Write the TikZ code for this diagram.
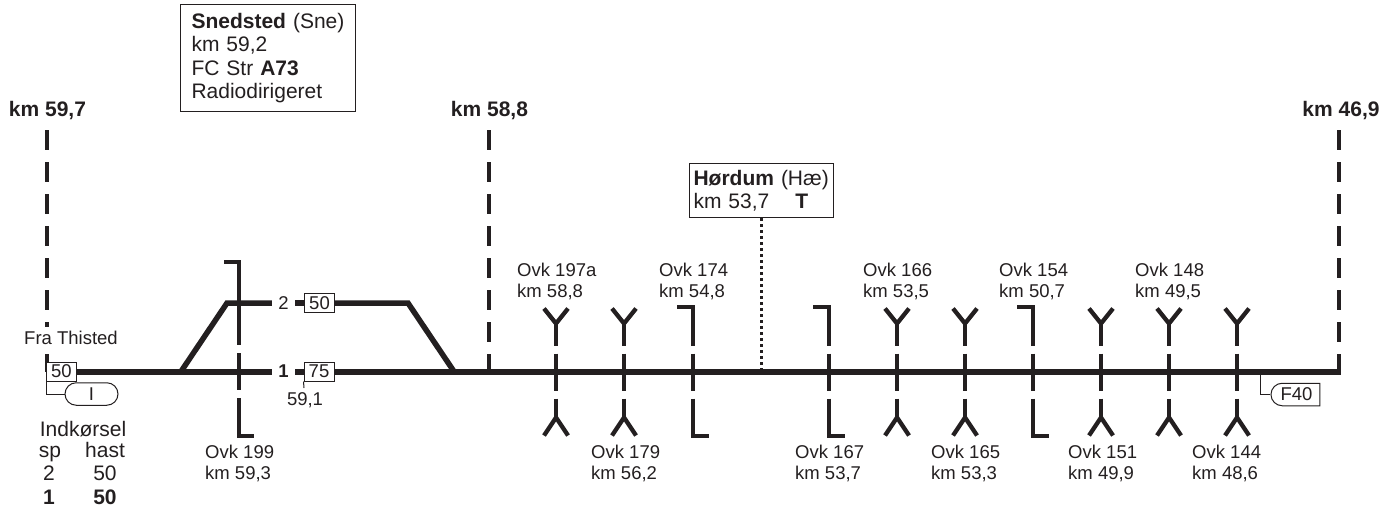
\documentclass[tikz,border=0pt]{standalone}
\usepackage{fontspec}
\setmainfont{Liberation Sans}
\usepackage{tikz}
\usetikzlibrary{positioning,shapes.misc}
\usepackage{xcolor}
\definecolor{rail}{RGB}{35,31,32}

\begin{document}
\begin{tikzpicture}[
    x=1pt, y=-1pt,
    every node/.style={text=rail, inner sep=0pt},
    txt/.style={font=\fontsize{18.5}{21}\selectfont, align=left},
    bigtxt/.style={font=\fontsize{21}{24}\selectfont, anchor=base},
    bigbold/.style={font=\fontsize{21}{24}\selectfont\bfseries, anchor=base},
    kmhead/.style={font=\fontsize{21}{24}\selectfont\bfseries},
    infobox/.style={draw=rail, line width=1pt, fill=white, font=\fontsize{21}{23.3}\selectfont, align=left, anchor=north west},
    speedbox/.style={draw=rail, line width=1pt, fill=white, font=\fontsize{18.5}{21}\selectfont, minimum width=30pt, minimum height=19pt},
    tracknum/.style={font=\fontsize{18.5}{21}\selectfont, minimum width=23pt, minimum height=14pt},
    signbox/.style={draw=rail, line width=1pt, fill=white, font=\fontsize{18.5}{21}\selectfont, rounded rectangle, minimum height=22.5pt},
    track/.style={draw=rail, line width=6pt, line join=miter},
    branch/.style={draw=rail, line width=5.5pt, line join=miter},
    kmline/.style={draw=rail, line width=4.5pt, dash pattern=on 20pt off 12pt},
    thinline/.style={draw=rail, line width=1pt},
    bar/.style={draw=rail, line width=4.3pt},
    ovkfork/.pic={
        \draw[bar] (-12,-63) -- (0,-48) -- (12,-63);
        \draw[bar] (0,-48) -- (0,-26);
        \draw[bar] (0,-18) -- (0,19);
        \draw[bar] (0,27) -- (0,46);
        \draw[bar] (-12,64) -- (0,46) -- (12,64);
    },
    ovkgate/.pic={
        \draw[bar] (-16,-64.5) -- (0,-64.5) -- (0,-26);
        \draw[bar] (0,-18) -- (0,19);
        \draw[bar] (0,27) -- (0,64.5) -- (16,64.5);
    }
]
    \useasboundingbox (0,0) rectangle (1391,509);

    % km marks
    \coordinate (m597a) at (47,130);
    \coordinate (m597b) at (47,371.5);
    \coordinate (m588a) at (489,130);
    \coordinate (m588b) at (489,371.5);
    \coordinate (m469a) at (1339,130);
    \coordinate (m469b) at (1339,371.5);
    \draw[kmline] (m597a) -- (m597b);
    \draw[kmline] (m588a) -- (m588b);
    \draw[kmline] (m469a) -- (m469b);
    \node[kmhead] (h597) at (47.5,111) {km 59,7};
    \node[kmhead] (h588) at (489.5,111) {km 58,8};
    \node[kmhead] (h469) at (1341,111) {km 46,9};

    % tracks
    \node[speedbox, fill=white] (v0) at (61.5,371.5) {50};
    \node[tracknum, font=\fontsize{18.5}{21}\selectfont\bfseries] (n1) at (283.5,371.5) {1};
    \node[tracknum] (n2) at (283.5,303) {2};
    \node[speedbox] (v1) at (319,371.5) {75};
    \node[speedbox] (v2) at (319.5,303) {50};
    \coordinate (s1) at (181,371.5);
    \coordinate (s1up) at (227,303);
    \coordinate (s2up) at (408,303);
    \coordinate (s2) at (454,371.5);
    \coordinate (endm) at (1341,371.5);
    \draw[track] (v0) -- (n1);
    \draw[track] (n1) -- (v1);
    \draw[track] (v1) -- (endm);
    \draw[branch] (s1) -- (s1up) -- (n2);
    \draw[branch] (n2) -- (v2);
    \draw[branch] (v2) -- (s2up) -- (s2);

    % Ovk 199 on the double track
    \coordinate (g199) at (239,262);
    \draw[bar] (224,262) -- (g199) -- (239,345);
    \draw[bar] (239,353) -- (239,390);
    \draw[bar] (239,398) -- (239,436) -- (254,436);

    % crossings
    \pic (o197a) at (556,371.5) {ovkfork};
    \pic (o179) at (624,371.5) {ovkfork};
    \pic (o174) at (693,371.5) {ovkgate};
    \pic (o167) at (829,371.5) {ovkgate};
    \pic (o166) at (897,371.5) {ovkfork};
    \pic (o165) at (965,371.5) {ovkfork};
    \pic (o154) at (1033,371.5) {ovkgate};
    \pic (o151) at (1101,371.5) {ovkfork};
    \pic (o148) at (1169,371.5) {ovkfork};
    \pic (o144) at (1237,371.5) {ovkfork};

    % labels
    \node[txt, anchor=west] (l199) at (205,463) {Ovk 199\\km 59,3};
    \node[txt, anchor=west] (l197a) at (517,281) {Ovk 197a\\km 58,8};
    \node[txt, anchor=west] (l179) at (591,463) {Ovk 179\\km 56,2};
    \node[txt, anchor=west] (l174) at (659,281) {Ovk 174\\km 54,8};
    \node[txt, anchor=west] (l167) at (795,463) {Ovk 167\\km 53,7};
    \node[txt, anchor=west] (l166) at (863,281) {Ovk 166\\km 53,5};
    \node[txt, anchor=west] (l165) at (931,463) {Ovk 165\\km 53,3};
    \node[txt, anchor=west] (l154) at (999,281) {Ovk 154\\km 50,7};
    \node[txt, anchor=west] (l151) at (1068,463) {Ovk 151\\km 49,9};
    \node[txt, anchor=west] (l148) at (1135,281) {Ovk 148\\km 49,5};
    \node[txt, anchor=west] (l144) at (1192,463) {Ovk 144\\km 48,6};

    % stations
    \node[infobox, inner ysep=5pt, minimum height=107pt, text width=175pt] (sne) at (180,4) {\hspace*{11pt}\textbf{Snedsted} (Sne)\\\hspace*{11pt}km 59,2\\\hspace*{11pt}FC Str \textbf{A73}\\\hspace*{11pt}Radiodirigeret};
    \node[infobox, inner ysep=4pt, minimum height=54pt, text width=144pt] (hae) at (689,163) {\hspace*{4pt}\textbf{Hørdum} (Hæ)\\\hspace*{4pt}km 53,7\hspace*{26pt}\textbf{T}};
    \coordinate (hae0) at (761,371.5);
    \draw[draw=rail, line width=3pt, dash pattern=on 3pt off 3pt] (hae.south -| hae0) -- (hae0);

    % entry side
    \node[txt, fill=white, inner ysep=4pt] (fra) at (71,338) {Fra Thisted};
    \node[signbox, minimum width=53pt] (ind) at (91.5,394) {I};
    \coordinate (v0c) at (46,394);
    \draw[thinline] (v0.south west) -- (v0c) -- (ind);
    \node[bigtxt] (indk) at (83,436) {Indkørsel};
    \node[bigtxt] (sp) at (50,457) {sp};
    \node[bigtxt] (hast) at (105,457) {hast};
    \node[bigtxt] (r2) at (49,480.5) {2};
    \node[bigtxt] (r2h) at (105,480.5) {50};
    \node[bigbold] (r1) at (49,504) {1};
    \node[bigbold] (r1h) at (105,504) {50};

    % small marks
    \node[txt] (km591) at (305,400) {59,1};
    \coordinate (k591) at (304,388);
    \draw[thinline] (v1.south west) -- (k591);
    \node[signbox, rounded rectangle east arc=none, minimum width=49pt] (f40) at (1296.5,394.5) {F40};
    \coordinate (f0) at (1260,371.5);
    \coordinate (f1) at (1260,394.5);
    \draw[thinline] (f0) -- (f1) -- (f40);
\end{tikzpicture}
\end{document}
